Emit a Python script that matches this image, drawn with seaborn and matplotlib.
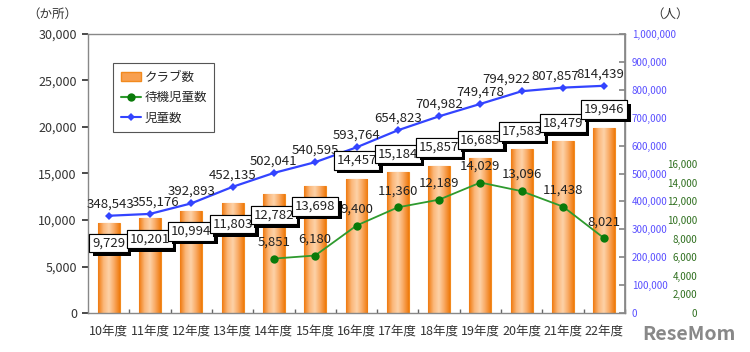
import numpy as np
import pandas as pd
import matplotlib
matplotlib.use('Agg')
import matplotlib.pyplot as plt
import matplotlib.patheffects as pe
from matplotlib.colors import LinearSegmentedColormap
from matplotlib.lines import Line2D
from matplotlib.patches import Patch
import seaborn as sns

# data
years = ['10年度', '11年度', '12年度', '13年度', '14年度', '15年度', '16年度',
         '17年度', '18年度', '19年度', '20年度', '21年度', '22年度']
clubs = [9729, 10201, 10994, 11803, 12782, 13698, 14457, 15184, 15857, 16685, 17583, 18479, 19946]
children = [348543, 355176, 392893, 452135, 502041, 540595, 593764, 654823, 704982, 749478,
            794922, 807857, 814439]
waiting_years = ['14年度', '15年度', '16年度', '17年度', '18年度', '19年度', '20年度', '21年度', '22年度']
waiting = [5851, 6180, 9400, 11360, 12189, 14029, 13096, 11438, 8021]

# small sideways nudges (points) for crowded labels on the blue line
child_nudge = {0: 1, 1: 4, 10: -11, 11: -6, 12: -3}

sns.set_theme(style='white')
plt.rcParams['font.family'] = ['Noto Sans CJK JP', 'DejaVu Sans']

fig = plt.figure(figsize=(7.5, 3.52), dpi=100)
rect = [88/750, 1-313/352, 537/750, 279/352]
ax = fig.add_axes(rect)

df = pd.DataFrame({'year': years, 'clubs': clubs})
sns.barplot(data=df, x='year', y='clubs', ax=ax, color='#f28a1e', width=0.53,
            edgecolor='#f28a1e', linewidth=0.8, saturation=1, zorder=2)

# gradient fill on the bars
cmap = LinearSegmentedColormap.from_list('bar', ['#f07a10', '#fbb77a', '#fdd2a8', '#f9a860', '#ef7a0c'])
grad = np.linspace(0, 1, 64).reshape(1, -1)
for p in ax.patches:
    x0, y0 = p.get_x(), p.get_y()
    w, h = p.get_width(), p.get_height()
    im = ax.imshow(grad, cmap=cmap, extent=[x0, x0 + w, y0, y0 + h], aspect='auto', zorder=2.5)
    im.set_clip_path(p)

ax.set_xlim(-0.5, len(years) - 0.5)
ax.set_ylim(0, 30000)
ax.set_yticks(range(0, 30001, 5000))
ax.set_yticklabels([f'{v:,}' for v in range(0, 30001, 5000)])
ax.set_xlabel('')
ax.set_ylabel('')
ax.tick_params(axis='y', left=True, length=4, direction='out', labelsize=9, colors='#333333', pad=4)
ax.tick_params(axis='x', length=0, labelsize=9, colors='#333333', pad=8)
ax.set_xticks(np.arange(len(years)) + 0.5, minor=True)
ax.tick_params(axis='x', which='minor', bottom=True, length=3, direction='in', color='#666666')
for s in ax.spines.values():
    s.set_color('#888888')
    s.set_linewidth(1)

# waiting children line (third axis, same scale as bars)
ax3 = ax.twinx()
ax3.set_position(rect)
wx = [years.index(y) for y in waiting_years]
sns.lineplot(x=wx, y=waiting, ax=ax3, color='#2e9a2e', marker='o', markersize=6,
             markerfacecolor='#0a7a0a', markeredgewidth=0, linewidth=1.3, zorder=5)
ax3.set_ylim(0, 30000)
ax3.set_yticks(range(0, 16001, 2000))
ax3.set_yticklabels([f'{v:,}' for v in range(0, 16001, 2000)], ha='right')
ax3.tick_params(axis='y', right=True, length=0, labelsize=7, labelcolor='#2f6f1f', pad=52)
for s in ax3.spines.values():
    s.set_visible(False)
for x, v in zip(wx, waiting):
    ax3.annotate(f'{v:,}', (x, v), xytext=(0, 12), textcoords='offset points',
                 ha='center', va='center', fontsize=9.5, color='#222222', zorder=6)

# children line (right axis)
ax2 = ax.twinx()
ax2.set_position(rect)
sns.lineplot(x=np.arange(len(years)), y=children, ax=ax2, color='#3344ff', marker='D',
             markersize=4, markeredgewidth=0, linewidth=1.6, zorder=5)
ax2.set_ylim(0, 1000000)
ax2.set_yticks(range(0, 1000001, 100000))
ax2.set_yticklabels([f'{v:,}' for v in range(0, 1000001, 100000)])
ax2.tick_params(axis='y', right=True, length=4, direction='in', labelsize=7, colors='#888888',
                labelcolor='#5a50ff', pad=5)
ax2.spines['right'].set_color('#888888')
for s in ['left', 'top', 'bottom']:
    ax2.spines[s].set_visible(False)
for i, v in enumerate(children):
    ax2.annotate(f'{v:,}', (i, v), xytext=(child_nudge.get(i, 0), 8.5), textcoords='offset points',
                 ha='center', va='center', fontsize=9.5, color='#222222', zorder=6)

# bar labels: boxed with drop shadow, drawn on the top axis so they sit over the lines
for i, v in enumerate(clubs):
    dy = -15 if v < 14000 else 13
    t = ax2.annotate(f'{v:,}', (i, v), xycoords=ax.transData, xytext=(0, dy),
                     textcoords='offset points', ha='center', va='center', fontsize=9.5,
                     color='#222222', zorder=7,
                     bbox=dict(boxstyle='square,pad=0.2', fc='white', ec='black', lw=0.8))
    t.get_bbox_patch().set_path_effects([pe.withSimplePatchShadow(offset=(2.5, -2.5),
                                          shadow_rgbFace='black', alpha=1), pe.Normal()])

ax.set_xlim(-0.5, len(years) - 0.5)
ax.set_zorder(1)
ax3.set_zorder(2)
ax2.set_zorder(3)

handles = [Patch(facecolor='#f8a050', edgecolor='#f28a1e'),
           Line2D([], [], color='#2e9a2e', marker='o', markerfacecolor='#0a7a0a',
                  markeredgewidth=0, markersize=6),
           Line2D([], [], color='#3344ff', marker='D', markeredgewidth=0, markersize=4)]
leg = ax2.legend(handles, ['クラブ数', '待機児童数', '児童数'], loc='upper left',
                 bbox_to_anchor=(0.035, 0.918), fontsize=9, frameon=True, fancybox=False,
                 edgecolor='#555555', handlelength=1.6, handletextpad=0.3, borderpad=0.6,
                 labelspacing=0.6, framealpha=1)
leg.get_frame().set_linewidth(0.8)

fig.text(52/750, 1-14/352, '（か所）', ha='center', va='center', fontsize=9, color='#333333')
fig.text(670/750, 1-14/352, '（人）', ha='center', va='center', fontsize=9, color='#333333')
fig.text(736/750, 1-334/352, 'ReseMom', ha='right', va='center', fontsize=14,
         fontweight='bold', color='#888888')

fig.savefig('out.png', dpi=100)
